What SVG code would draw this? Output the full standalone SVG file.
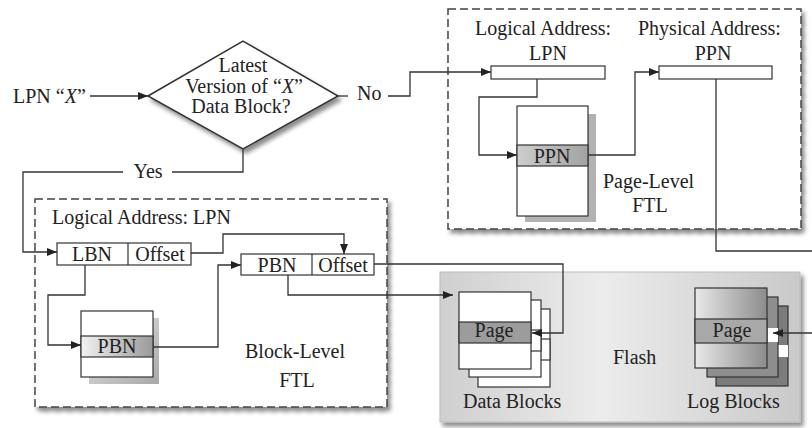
<svg xmlns="http://www.w3.org/2000/svg" width="812" height="428" viewBox="0 0 812 428">
  <defs>
    <style>
      text { font-family: "Liberation Serif", "Times New Roman", serif; font-size: 20px; fill: #222; }
      .mid { text-anchor: middle; }
      .line { fill: none; stroke: #333; stroke-width: 1.3; }
      .box { fill: #fff; stroke: #333; stroke-width: 1.2; }
      .dash { fill: #fff; stroke: #444; stroke-width: 1.5; stroke-dasharray: 8 4; }
    </style>
    <marker id="arrow" viewBox="0 0 10 8" refX="10" refY="4" markerWidth="10" markerHeight="8" markerUnits="userSpaceOnUse" orient="auto">
      <path d="M0,0 L10,4 L0,8 z" fill="#222"/>
    </marker>
    <filter id="shadow" x="-10%" y="-10%" width="125%" height="130%">
      <feDropShadow dx="3" dy="4" stdDeviation="2" flood-color="#000" flood-opacity="0.45"/>
    </filter>
    <linearGradient id="flashFill" x1="0" y1="0" x2="1" y2="0">
      <stop offset="0" stop-color="#cfcfcf"/>
      <stop offset="0.45" stop-color="#ececec"/>
      <stop offset="1" stop-color="#c9c9c9"/>
    </linearGradient>
    <linearGradient id="ppnRow" x1="0" y1="0" x2="1" y2="0">
      <stop offset="0" stop-color="#cdcdcd"/>
      <stop offset="1" stop-color="#a2a2a2"/>
    </linearGradient>
    <linearGradient id="pbnRow" x1="0" y1="0" x2="1" y2="0">
      <stop offset="0" stop-color="#f2f2f2"/>
      <stop offset="1" stop-color="#9a9a9a"/>
    </linearGradient>
    <linearGradient id="logFront" x1="0" y1="0" x2="1" y2="0">
      <stop offset="0" stop-color="#e8e8e8"/>
      <stop offset="1" stop-color="#8c8c8c"/>
    </linearGradient>
    <linearGradient id="tableShade" x1="0" y1="0" x2="1" y2="1">
      <stop offset="0" stop-color="#e8e8e8"/>
      <stop offset="1" stop-color="#a8a8a8"/>
    </linearGradient>
  </defs>

  <rect width="812" height="428" fill="#fff"/>

  <!-- decision -->
  <g id="decision">
    <polygon points="148,96 243,41 338,96 243,149" fill="#fff" stroke="#333" stroke-width="1.5" filter="url(#shadow)"/>
    <text class="mid" x="243" y="72">Latest</text>
    <text class="mid" x="244" y="93">Version of “<tspan font-style="italic">X</tspan>”</text>
    <text class="mid" x="241" y="113">Data Block?</text>
  </g>

  <g id="input">
    <text x="13" y="103">LPN “<tspan font-style="italic">X</tspan>”</text>
  </g>

  <!-- page-level FTL -->
  <g id="page-level-ftl">
    <rect class="dash" x="448" y="9" width="353" height="220" filter="url(#shadow)"/>
    <text x="475" y="35">Logical Address:</text>
    <text class="mid" x="548" y="60">LPN</text>
    <text x="638" y="35">Physical Address:</text>
    <text class="mid" x="713" y="60">PPN</text>
    <text x="603" y="188">Page-Level</text>
    <text class="mid" x="650" y="212">FTL</text>
  </g>
  <g id="lpn-register">
    <rect class="box" x="491" y="66" width="114" height="13"/>
  </g>
  <g id="ppn-register">
    <rect class="box" x="659" y="66" width="113" height="13"/>
  </g>
  <g id="page-table">
    <rect x="525" y="114" width="71" height="108" fill="#b2b2b2"/>
    <rect class="box" x="517" y="106" width="71" height="110"/>
    <rect x="517" y="145" width="71" height="21" fill="url(#ppnRow)" stroke="#333" stroke-width="1.2"/>
    <text class="mid" x="552" y="163">PPN</text>
  </g>

  <!-- block-level FTL -->
  <g id="block-level-ftl">
    <rect class="dash" x="35" y="199" width="352" height="208" filter="url(#shadow)"/>
    <text x="52" y="224">Logical Address: LPN</text>
    <text x="245" y="358">Block-Level</text>
    <text class="mid" x="297" y="387">FTL</text>
  </g>
  <g id="lbn-register">
    <rect class="box" x="57" y="243" width="134" height="22"/>
    <line x1="128" y1="243" x2="128" y2="265" stroke="#333" stroke-width="1.2"/>
    <text class="mid" x="92" y="261">LBN</text>
    <text class="mid" x="160" y="261">Offset</text>
  </g>
  <g id="pbn-register">
    <rect class="box" x="241" y="254" width="133" height="21"/>
    <line x1="312" y1="254" x2="312" y2="275" stroke="#333" stroke-width="1.2"/>
    <text class="mid" x="277" y="272">PBN</text>
    <text class="mid" x="343" y="272">Offset</text>
  </g>
  <g id="block-table">
    <rect x="89" y="318" width="70" height="66" fill="url(#tableShade)"/>
    <rect class="box" x="81" y="311" width="72" height="66"/>
    <rect x="81" y="336" width="72" height="21" fill="url(#pbnRow)" stroke="#333" stroke-width="1.2"/>
    <text class="mid" x="117" y="353">PBN</text>
  </g>

  <!-- flash -->
  <g id="flash">
    <rect x="440" y="272" width="360" height="150" fill="url(#flashFill)" stroke="#bbb" stroke-width="1" filter="url(#shadow)"/>
    <text x="613" y="364">Flash</text>
  </g>
  <g id="data-blocks">
    <rect class="box" x="478" y="309" width="72" height="78"/>
    <rect class="box" x="478" y="339" width="72" height="21"/>
    <rect class="box" x="469" y="300" width="72" height="77"/>
    <rect class="box" x="469" y="330" width="72" height="21"/>
    <rect class="box" x="459" y="292" width="72" height="77"/>
    <rect x="459" y="322" width="72" height="21" fill="#9c9c9c" stroke="#333" stroke-width="1.2"/>
    <text class="mid" x="494" y="337">Page</text>
    <text x="463" y="408">Data Blocks</text>
  </g>
  <g id="log-blocks">
    <rect x="716" y="306" width="72" height="80" fill="#7c7c7c" stroke="#333" stroke-width="1.2"/>
    <rect x="778" y="345" width="10" height="12" fill="#fff"/>
    <rect x="707" y="297" width="71" height="80" fill="#8e8e8e" stroke="#333" stroke-width="1.2"/>
    <rect x="767" y="328" width="11" height="14" fill="#fff"/>
    <rect x="695" y="288" width="72" height="80" fill="url(#logFront)" stroke="#333" stroke-width="1.2"/>
    <rect x="695" y="319" width="72" height="24" fill="#a8a8a8" stroke="#333" stroke-width="1.2"/>
    <text class="mid" x="732" y="337">Page</text>
    <text x="687" y="408">Log Blocks</text>
  </g>

  <!-- connectors and labels on them -->
  <g id="connectors">
    <path class="line" d="M90,96 H148" marker-end="url(#arrow)"/>
    <path class="line" d="M338,96 H348"/>
    <text x="357" y="100">No</text>
    <path class="line" d="M388,96 H410 V72 H491" marker-end="url(#arrow)"/>
    <path class="line" d="M243,149 V172 H172"/>
    <text class="mid" x="148" y="178">Yes</text>
    <path class="line" d="M123,172 H23 V252 H57" marker-end="url(#arrow)"/>
    <path class="line" d="M537,79 V97 H479 V155 H517" marker-end="url(#arrow)"/>
    <path class="line" d="M588,155 H635 V72 H659" marker-end="url(#arrow)"/>
    <path class="line" d="M716,79 V251 H812"/>
    <path class="line" d="M812,333 H773" marker-end="url(#arrow)"/>
    <path class="line" d="M85,265 V295 H48 V345 H81" marker-end="url(#arrow)"/>
    <path class="line" d="M153,347 H218 V265 H241" marker-end="url(#arrow)"/>
    <path class="line" d="M191,253 H223 V234 H344 V254" marker-end="url(#arrow)"/>
    <path class="line" d="M374,264 H563 V333 H532" marker-end="url(#arrow)"/>
    <path class="line" d="M288,275 V295 H453" marker-end="url(#arrow)"/>
  </g>
</svg>
